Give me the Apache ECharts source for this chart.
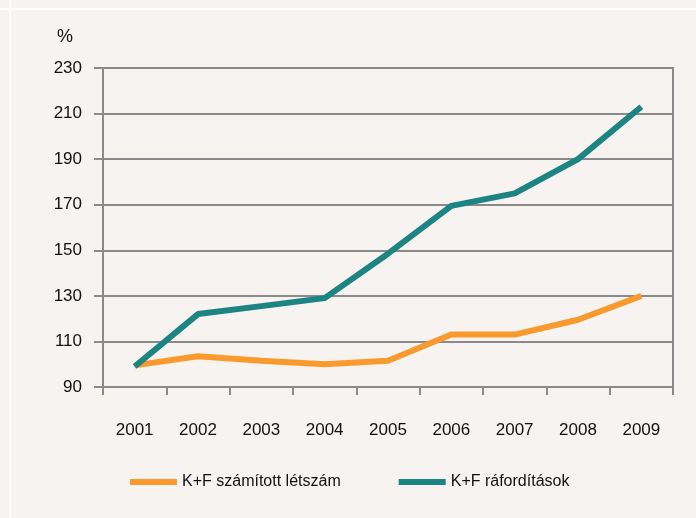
<!DOCTYPE html>
<html><head><meta charset="utf-8">
<script src="https://cdn.jsdelivr.net/npm/echarts@6/dist/echarts.min.js"></script>
<style>html,body{margin:0;padding:0;background:#f6f3f0;}#c{width:696px;height:518px;}</style>
</head><body><div id="c"></div>
<script>
var years = ['2001','2002','2003','2004','2005','2006','2007','2008','2009'];
var letszam = [99.5, 103.5, 101.5, 100, 101.5, 113, 113, 119.5, 130];
var raforditas = [99, 122, 125.5, 129, 148.5, 169.5, 175, 190, 213];
var yTicks = {min: 90, max: 230, interval: 20};
var FONT = "'Liberation Sans',Arial,sans-serif";
var chart = echarts.init(document.getElementById('c'), null, {renderer:'canvas'});
chart.setOption({
  backgroundColor: '#f6f3f0',
  animation: false,
  graphic: [
    {type:'line', shape:{x1:10, y1:0, x2:10, y2:518}, style:{stroke:'#ffffff', lineWidth:2}},
    {type:'line', shape:{x1:0, y1:9, x2:696, y2:9}, style:{stroke:'#ffffff', lineWidth:2}},
    {type:'text', left:57, top:28, style:{text:'%', font:'18px ' + FONT, fill:'#111111'}}
  ],
  grid: {left:103, right:23, top:68, bottom:131, show:true, borderColor:'#8a8a8c', borderWidth:2, backgroundColor:'transparent'},
  legend: {
    left:130, top:474, padding:0, itemWidth:47, itemHeight:6, itemGap:58, icon:'rect',
    textStyle:{fontFamily:FONT, fontSize:16, color:'#111111'},
    data:['K+F számított létszám','K+F ráfordítások']
  },
  xAxis: {
    type:'category', data:years, boundaryGap:true,
    axisLine:{lineStyle:{color:'#8a8a8c', width:2}},
    axisTick:{show:true, length:8, lineStyle:{color:'#8a8a8c', width:2}},
    axisLabel:{color:'#111111', fontFamily:FONT, fontSize:17, margin:35}
  },
  yAxis: {
    type:'value', min:yTicks.min, max:yTicks.max, interval:yTicks.interval,
    axisLine:{show:true, lineStyle:{color:'#8a8a8c', width:2}},
    axisTick:{show:true, length:9, lineStyle:{color:'#8a8a8c', width:2}},
    splitLine:{lineStyle:{color:'#8a8a8c', width:2}},
    axisLabel:{color:'#111111', fontFamily:FONT, fontSize:17, margin:21}
  },
  series: [
    {name:'K+F számított létszám', type:'line', data:letszam, symbol:'none', lineStyle:{color:'#f99a2f', width:6}, itemStyle:{color:'#f99a2f'}},
    {name:'K+F ráfordítások', type:'line', data:raforditas, symbol:'none', lineStyle:{color:'#1c8482', width:6}, itemStyle:{color:'#1c8482'}}
  ]
});
</script></body></html>
